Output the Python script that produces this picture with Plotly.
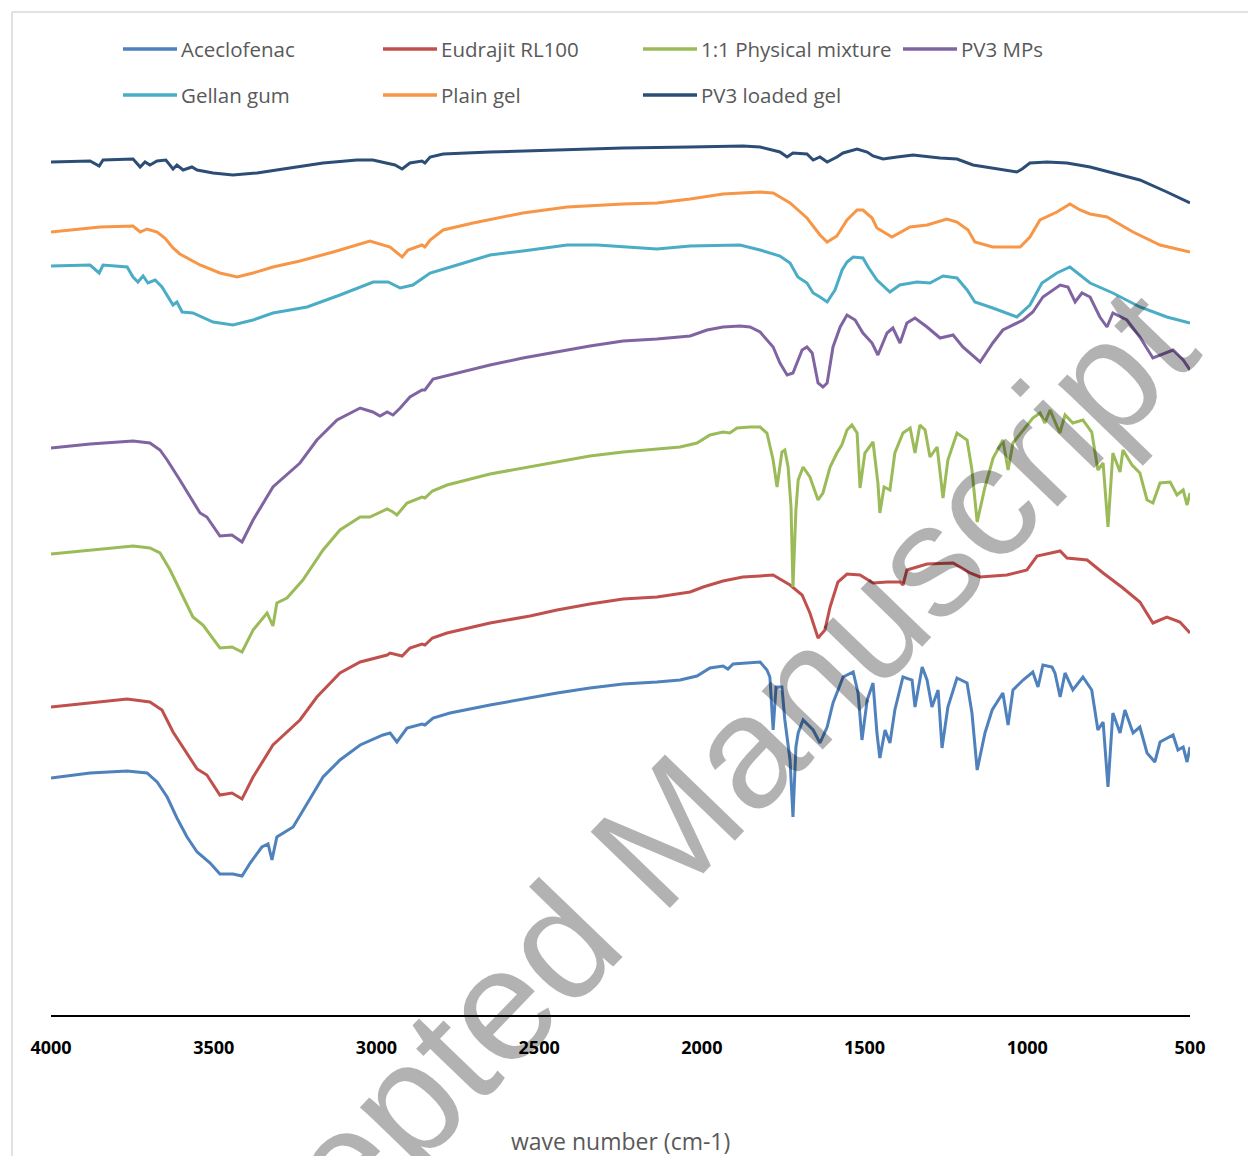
import plotly.graph_objects as go

# ---- FTIR spectra: wavenumber (cm-1) and stacked transmittance (arbitrary, offset) ----
wn_ace = [4000, 3880, 3766, 3705, 3674, 3643, 3613, 3582, 3551, 3511, 3481, 3441, 3413, 3388, 3352, 3333, 3321, 3306,
          3256, 3213, 3164, 3112, 3050, 2980, 2958, 2937, 2906, 2860, 2851, 2826, 2774, 2651, 2550, 2445, 2344, 2242,
          2138, 2067, 2015, 1975, 1935, 1920, 1904, 1852, 1821, 1800, 1791, 1781, 1772, 1754, 1745, 1729, 1720, 1711,
          1704, 1689, 1658, 1637, 1615, 1597, 1566, 1535, 1520, 1508, 1492, 1474, 1462, 1453, 1437, 1422, 1407, 1382,
          1354, 1345, 1323, 1308, 1293, 1274, 1262, 1244, 1216, 1185, 1170, 1154, 1130, 1108, 1075, 1059, 1044, 1013,
          983, 967, 952, 924, 915, 899, 884, 860, 829, 802, 783, 767, 752, 737, 715, 700, 675, 654, 632, 608, 592, 552,
          537, 521, 509, 500]
t_ace = [237, 242, 244, 242, 233, 218, 197, 178, 163, 152, 141, 141, 139, 152, 168, 171, 155, 178,
         188, 212, 238, 255, 270, 280, 282, 273, 287, 291, 290, 297, 302, 310, 316, 322, 327, 331,
         333, 335, 339, 347, 349, 346, 351, 352, 353, 345, 338, 285, 328, 328, 295, 255, 198, 268,
         282, 295, 285, 272, 288, 312, 338, 343, 322, 275, 315, 332, 282, 257, 285, 272, 305, 338,
         335, 308, 348, 335, 308, 325, 267, 308, 337, 332, 302, 245, 282, 305, 322, 290, 325, 335,
         343, 328, 350, 348, 342, 318, 342, 325, 338, 325, 285, 293, 228, 302, 282, 305, 282, 288, 262, 253, 273, 280,
         265, 268, 253, 268]

wn_eud = [4000, 3880, 3766, 3696, 3659, 3625, 3582, 3551, 3521, 3481, 3444, 3413, 3379, 3318, 3235, 3183, 3112, 3050,
          2967, 2958, 2921, 2897, 2860, 2851, 2828, 2783, 2651, 2528, 2445, 2344, 2242, 2138, 2036, 1996, 1935, 1874,
          1821, 1781, 1729, 1692, 1668, 1643, 1622, 1606, 1582, 1554, 1514, 1474, 1431, 1391, 1382, 1370, 1308, 1228,
          1176, 1145, 1063, 1001, 970, 899, 878, 816, 767, 706, 654, 614, 571, 531, 500]
t_eud = [308, 312, 316, 313, 305, 283, 262, 246, 240, 220, 222, 216, 238, 270, 295, 318, 342, 353,
         360, 362, 359, 367, 371, 370, 377, 382, 392, 399, 405, 411, 416, 418, 423, 428, 434, 438,
         439, 440, 430, 420, 402, 377, 385, 408, 433, 441, 440, 432, 433, 433, 430, 445, 451, 452,
         442, 438, 440, 445, 459, 464, 457, 455, 442, 427, 413, 392, 398, 393, 382]

wn_mix = [4000, 3880, 3748, 3696, 3665, 3634, 3604, 3564, 3533, 3481, 3444, 3413, 3379, 3336, 3318, 3306, 3275, 3226,
          3164, 3112, 3050, 3020, 2967, 2949, 2937, 2906, 2860, 2851, 2828, 2783, 2651, 2550, 2445, 2344, 2242, 2138,
          2067, 2015, 1975, 1935, 1914, 1892, 1852, 1821, 1800, 1781, 1769, 1754, 1745, 1735, 1726, 1720, 1711, 1704,
          1689, 1668, 1643, 1628, 1606, 1585, 1570, 1554, 1539, 1523, 1514, 1499, 1474, 1459, 1453, 1440, 1422, 1407,
          1382, 1360, 1345, 1330, 1314, 1299, 1277, 1259, 1244, 1216, 1185, 1170, 1154, 1130, 1105, 1075, 1059, 1044,
          1013, 983, 961, 946, 930, 900, 884, 860, 829, 802, 783, 767, 752, 737, 715, 706, 678, 654, 632, 614, 592, 561,
          540, 521, 509, 500]
t_mix = [461, 465, 469, 467, 462, 445, 425, 398, 390, 367, 368, 363, 385, 402, 389, 412, 417, 435,
         465, 485, 498, 498, 506, 503, 500, 512, 518, 517, 524, 530, 541, 547, 553, 559, 563, 566,
         568, 572, 580, 583, 582, 587, 588, 588, 582, 555, 528, 563, 565, 548, 508, 428, 505, 535,
         548, 538, 515, 522, 548, 562, 570, 585, 590, 582, 527, 562, 573, 532, 502, 528, 525, 562,
         582, 587, 562, 590, 585, 558, 568, 517, 555, 582, 575, 545, 493, 528, 557, 575, 545, 572,
         585, 597, 602, 592, 605, 582, 600, 592, 595, 583, 545, 552, 488, 562, 543, 565, 550, 542, 515, 512, 532, 533,
         520, 525, 510, 522]

wn_mps = [4000, 3880, 3748, 3696, 3665, 3643, 3604, 3564, 3542, 3521, 3481, 3444, 3413, 3379, 3318, 3235, 3183, 3121,
          3050, 3011, 2989, 2967, 2949, 2927, 2897, 2860, 2851, 2826, 2752, 2651, 2550, 2445, 2344, 2242, 2138, 2036,
          1984, 1935, 1883, 1852, 1821, 1781, 1760, 1738, 1720, 1692, 1677, 1661, 1643, 1628, 1615, 1597, 1575, 1554,
          1529, 1505, 1477, 1459, 1431, 1413, 1391, 1370, 1345, 1308, 1268, 1228, 1198, 1145, 1106, 1075, 1044, 1013,
          983, 952, 899, 875, 853, 832, 807, 777, 755, 737, 694, 654, 614, 571, 552, 521, 500]
t_mps = [567, 571, 574, 572, 565, 555, 535, 513, 502, 498, 479, 480, 473, 495, 528, 552, 575, 595,
         607, 603, 599, 603, 600, 607, 618, 625, 625, 636, 642, 650, 657, 663, 669, 674, 676, 679,
         685, 688, 689, 688, 683, 668, 652, 640, 642, 665, 668, 662, 632, 628, 632, 668, 688, 700,
         695, 682, 672, 660, 682, 687, 672, 692, 697, 688, 677, 680, 668, 653, 672, 685, 690, 695,
         703, 718, 730, 728, 713, 722, 718, 698, 688, 702, 695, 678, 657, 663, 665, 655, 645]

wn_gel = [4000, 3880, 3852, 3840, 3766, 3748, 3733, 3717, 3702, 3680, 3659, 3640, 3625, 3613, 3597, 3564, 3502, 3441,
          3379, 3318, 3213, 3112, 3010, 2964, 2927, 2888, 2835, 2752, 2651, 2550, 2414, 2322, 2242, 2138, 2036, 1935,
          1883, 1821, 1760, 1729, 1705, 1677, 1658, 1637, 1615, 1591, 1569, 1554, 1535, 1505, 1489, 1462, 1422, 1392,
          1339, 1299, 1259, 1216, 1185, 1161, 1106, 1032, 992, 955, 909, 869, 838, 807, 737, 654, 571, 500]
t_gel = [749, 750, 742, 750, 748, 738, 733, 739, 732, 735, 728, 718, 710, 713, 703, 702, 693, 690,
         695, 702, 708, 720, 733, 733, 727, 730, 742, 750, 760, 764, 770, 770, 768, 766, 769, 770,
         770, 765, 759, 752, 738, 732, 722, 718, 713, 725, 745, 753, 758, 757, 748, 735, 723, 730,
         733, 732, 739, 737, 725, 713, 707, 698, 710, 732, 742, 748, 740, 732, 722, 708, 698, 692]

wn_plain = [4000, 3849, 3748, 3726, 3705, 3674, 3650, 3625, 3604, 3542, 3481, 3428, 3379, 3318, 3235, 3133, 3020, 2958,
            2921, 2903, 2860, 2851, 2835, 2795, 2703, 2550, 2414, 2242, 2138, 2036, 1935, 1821, 1781, 1729, 1677, 1637,
            1615, 1585, 1554, 1523, 1505, 1477, 1462, 1416, 1360, 1308, 1247, 1216, 1182, 1161, 1106, 1022, 992, 961,
            909, 869, 838, 807, 755, 675, 592, 500]
t_plain = [783, 788, 789, 783, 786, 783, 777, 767, 761, 750, 742, 738, 742, 748, 754, 763, 774, 768,
           758, 765, 770, 768, 775, 785, 792, 802, 808, 811, 812, 816, 821, 823, 822, 812, 797, 780,
           773, 779, 795, 805, 805, 797, 787, 778, 788, 790, 796, 793, 785, 773, 768, 768, 778, 795,
           803, 811, 805, 801, 798, 783, 770, 763]

wn_loaded = [4000, 3880, 3852, 3840, 3748, 3726, 3711, 3696, 3674, 3647, 3625, 3613, 3594, 3567, 3551, 3502, 3441, 3367,
             3266, 3164, 3060, 3011, 2943, 2921, 2897, 2860, 2851, 2835, 2795, 2651, 2445, 2242, 2036, 1874, 1821, 1760,
             1738, 1720, 1677, 1658, 1637, 1615, 1585, 1566, 1523, 1492, 1474, 1443, 1400, 1351, 1268, 1216, 1167, 1114,
             1032, 1016, 992, 939, 878, 807, 737, 654, 571, 500]
t_loaded = [853, 854, 849, 855, 856, 848, 853, 850, 854, 855, 846, 850, 845, 848, 845, 842, 840, 842,
            847, 852, 855, 855, 850, 846, 852, 854, 852, 858, 861, 863, 865, 867, 868, 869, 868, 863,
            858, 862, 861, 855, 858, 853, 858, 862, 866, 863, 859, 856, 858, 860, 857, 856, 850, 847,
            843, 846, 852, 853, 852, 848, 842, 835, 823, 812]

series_names = ["Aceclofenac", "Eudrajit RL100", "1:1 Physical mixture", "PV3 MPs",
                "Gellan gum", "Plain gel", "PV3 loaded gel"]
series_x = [wn_ace, wn_eud, wn_mix, wn_mps, wn_gel, wn_plain, wn_loaded]
series_y = [t_ace, t_eud, t_mix, t_mps, t_gel, t_plain, t_loaded]
series_colors = ["#4F81BD", "#C0504D", "#9BBB59", "#8064A2", "#4BACC6", "#F79646", "#2C4D75"]

tick_vals = [4000, 3500, 3000, 2500, 2000, 1500, 1000, 500]

W, H = 1248, 1156
L, R, T, B = 51, 58, 130, 141
PW, PH = W - L - R, H - T - B


def px(xp):
    return (xp - L) / PW


def py(yp):
    return (H - B - yp) / PH


fig = go.Figure()
for name, xs, ys, col in zip(series_names, series_x, series_y, series_colors):
    fig.add_trace(go.Scatter(x=xs, y=ys, mode="lines", name=name,
                             line=dict(color=col, width=3), showlegend=False))

shapes = []
annotations = []

# legend, laid out in two rows of four columns
leg_cols = [123, 383, 643, 903]
leg_rows = [49, 95]
for i, (name, col) in enumerate(zip(series_names, series_colors)):
    r, c = divmod(i, 4)
    x0 = leg_cols[c]
    yy = py(leg_rows[r])
    shapes.append(dict(type="line", xref="paper", yref="paper", x0=px(x0), x1=px(x0 + 54),
                       y0=yy, y1=yy, line=dict(color=col, width=3.5)))
    annotations.append(dict(xref="paper", yref="paper", x=px(x0 + 56), y=yy, xanchor="left",
                            yanchor="middle", text=name, showarrow=False,
                            font=dict(family="Open Sans", size=20.5, color="#595959")))

# chart frame
shapes.append(dict(type="line", xref="paper", yref="paper", x0=px(12), x1=px(W), y0=py(12), y1=py(12),
                   line=dict(color="#D9D9D9", width=1.5)))
shapes.append(dict(type="line", xref="paper", yref="paper", x0=px(12), x1=px(12), y0=py(12), y1=py(H),
                   line=dict(color="#D9D9D9", width=1.5)))

# axis title
annotations.append(dict(xref="paper", yref="paper", x=0.5, y=py(1141), xanchor="center", yanchor="middle",
                        text="wave number (cm-1)", showarrow=False,
                        font=dict(family="Open Sans", size=23, color="#595959")))

# watermark
annotations.append(dict(xref="paper", yref="paper", x=px(645), y=py(853), xanchor="center", yanchor="middle",
                        text="Accepted Manuscript", showarrow=False, textangle=-46,
                        font=dict(family="Liberation Sans", size=160, color="rgba(0,0,0,0.3)")))

fig.update_layout(
    width=W, height=H,
    margin=dict(l=L, r=R, t=T, b=B),
    paper_bgcolor="white", plot_bgcolor="white",
    showlegend=False,
    shapes=shapes, annotations=annotations,
    xaxis=dict(range=[4000, 500], tickvals=tick_vals, ticktext=[str(v) for v in tick_vals],
               showgrid=False, zeroline=False, showline=True, linecolor="black", linewidth=2,
               ticks="", ticklabelstandoff=15,
               tickfont=dict(family="Open Sans", size=18, color="black", weight="bold")),
    yaxis=dict(range=[0, PH], visible=False, showgrid=False, zeroline=False),
)

fig.write_html("out.html")
